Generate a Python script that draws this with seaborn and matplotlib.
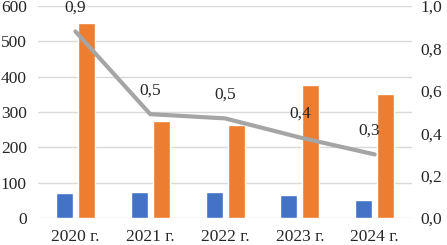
import numpy as np
import pandas as pd
import matplotlib
matplotlib.use("Agg")
import matplotlib.pyplot as plt
import seaborn as sns

years = ["2020 г.", "2021 г.", "2022 г.", "2023 г.", "2024 г."]
series_a = [70, 74, 74, 64, 50]
series_b = [553, 276, 262, 376, 350]
ratio = [0.88, 0.49, 0.47, 0.38, 0.30]
ratio_labels = ["0,9", "0,5", "0,5", "0,4", "0,3"]

sns.set_style("white")
plt.rcParams["font.family"] = ["Liberation Serif", "DejaVu Serif"]
fs = 12.5

df = pd.DataFrame({
    "year": years * 2,
    "value": series_a + series_b,
    "series": ["a"] * len(years) + ["b"] * len(years),
})

fig = plt.figure(figsize=(4.47, 2.45), dpi=100)
ax = fig.add_axes([0.085, 0.11, 0.837, 0.8655])

sns.barplot(data=df, x="year", y="value", hue="series", order=years,
            palette=["#4472C4", "#ED7D31"], saturation=1, width=0.59, gap=0.23,
            legend=False, ax=ax)
ax.set_ylim(0, 600)
ax.set_yticks(range(0, 601, 100))
ax.set_xlim(-0.5, 4.5)
ax.grid(axis="y", color="#D9D9D9", linewidth=1)
ax.set_axisbelow(True)
ax.set_xlabel("")
ax.set_ylabel("")
ax.tick_params(axis="y", length=0, pad=8, labelsize=fs)
ax.tick_params(axis="x", length=0, pad=8, labelsize=fs)
for s in ax.spines.values():
    s.set_visible(False)

ax2 = ax.twinx()
sns.pointplot(x=years, y=ratio, order=years, color="#A5A5A5", markers="",
              linewidth=3, ax=ax2)
ax2.set_ylim(0, 1.0)
ax2.set_yticks(np.arange(0, 1.01, 0.2))
ax2.set_yticklabels([f"{t:.1f}".replace(".", ",") for t in np.arange(0, 1.01, 0.2)])
ax2.tick_params(axis="y", length=0, pad=6, labelsize=fs)
ax2.set_xlim(-0.5, 4.5)
for s in ax2.spines.values():
    s.set_visible(False)

for i, (v, lab) in enumerate(zip(ratio, ratio_labels)):
    dx = -4 if i == len(ratio) - 1 else 0
    ax2.annotate(lab, (i, v), xytext=(dx, 17), textcoords="offset points",
                 ha="center", va="center", fontsize=fs)

fig.savefig("out.png", dpi=100)
